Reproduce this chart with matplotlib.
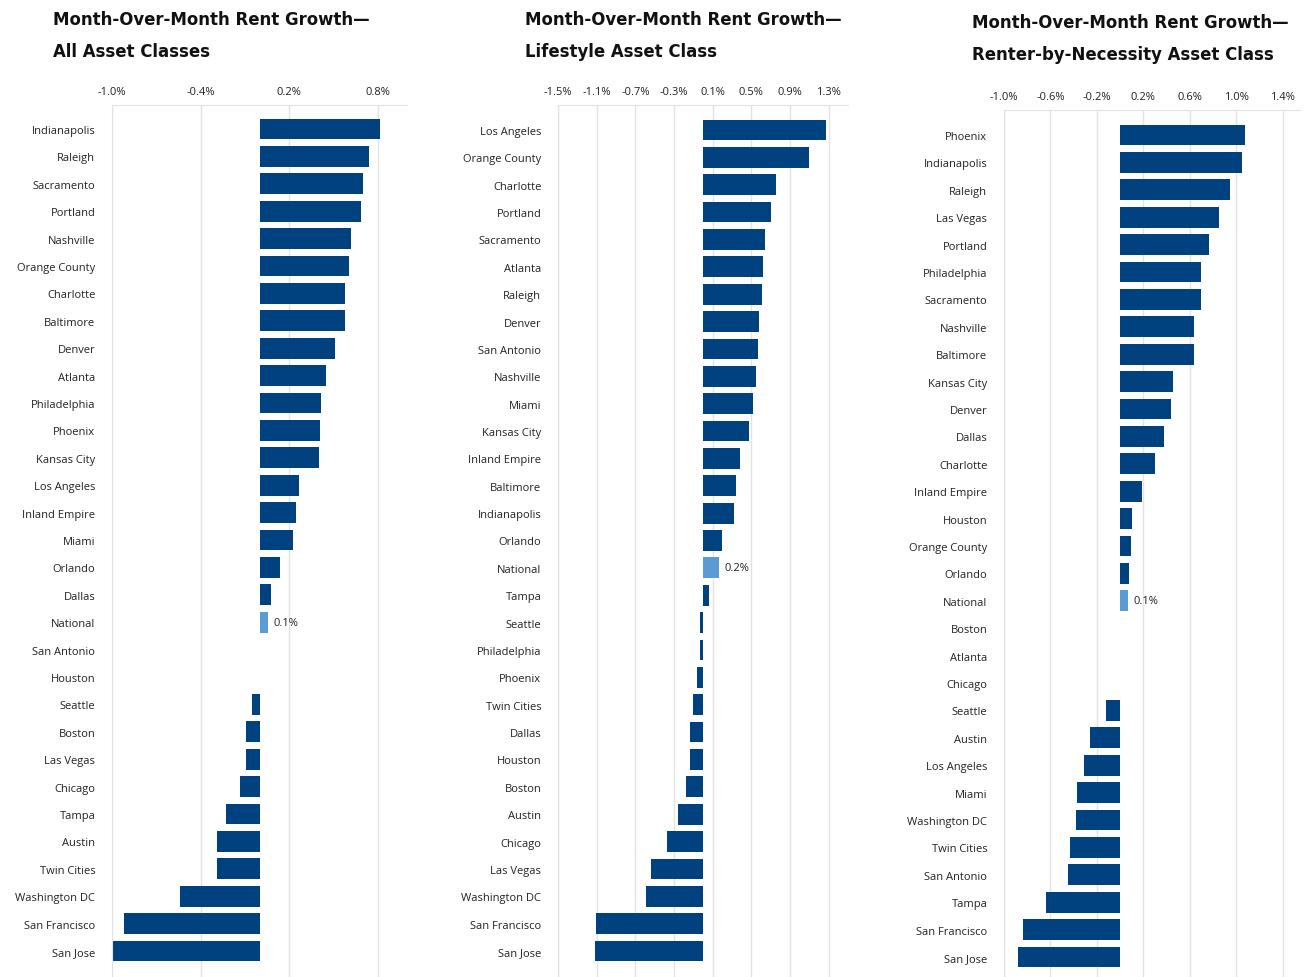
import matplotlib.pyplot as plt
from matplotlib import font_manager
from matplotlib.font_manager import FontProperties

# data (percent)
cities_all = ["Indianapolis", "Raleigh", "Sacramento", "Portland", "Nashville", "Orange County",
              "Charlotte", "Baltimore", "Denver", "Atlanta", "Philadelphia", "Phoenix",
              "Kansas City", "Los Angeles", "Inland Empire", "Miami", "Orlando", "Dallas",
              "National", "San Antonio", "Houston", "Seattle", "Boston", "Las Vegas", "Chicago",
              "Tampa", "Austin", "Twin Cities", "Washington DC", "San Francisco", "San Jose"]
growth_all = [0.82, 0.74, 0.70, 0.69, 0.62, 0.61, 0.58, 0.58, 0.51, 0.45, 0.42, 0.41,
              0.40, 0.27, 0.25, 0.23, 0.14, 0.08, 0.06, 0.0, 0.0, -0.05, -0.09, -0.09,
              -0.13, -0.23, -0.29, -0.29, -0.54, -0.92, -0.99]

cities_life = ["Los Angeles", "Orange County", "Charlotte", "Portland", "Sacramento", "Atlanta",
               "Raleigh", "Denver", "San Antonio", "Nashville", "Miami", "Kansas City",
               "Inland Empire", "Baltimore", "Indianapolis", "Orlando", "National", "Tampa",
               "Seattle", "Philadelphia", "Phoenix", "Twin Cities", "Dallas", "Houston",
               "Boston", "Austin", "Chicago", "Las Vegas", "Washington DC", "San Francisco",
               "San Jose"]
growth_life = [1.27, 1.10, 0.76, 0.70, 0.645, 0.625, 0.615, 0.58, 0.57, 0.55, 0.52, 0.48,
               0.38, 0.345, 0.325, 0.20, 0.17, 0.06, -0.035, -0.035, -0.065, -0.105,
               -0.135, -0.135, -0.18, -0.26, -0.37, -0.535, -0.59, -1.105, -1.115]

cities_rbn = ["Phoenix", "Indianapolis", "Raleigh", "Las Vegas", "Portland", "Philadelphia",
              "Sacramento", "Nashville", "Baltimore", "Kansas City", "Denver", "Dallas",
              "Charlotte", "Inland Empire", "Houston", "Orange County", "Orlando", "National",
              "Boston", "Atlanta", "Chicago", "Seattle", "Austin", "Los Angeles", "Miami",
              "Washington DC", "Twin Cities", "San Antonio", "Tampa", "San Francisco", "San Jose"]
growth_rbn = [1.08, 1.05, 0.95, 0.85, 0.77, 0.70, 0.70, 0.64, 0.64, 0.46, 0.44, 0.38,
              0.30, 0.19, 0.10, 0.09, 0.08, 0.07, 0.0, 0.0, 0.0, -0.125, -0.26, -0.315,
              -0.37, -0.38, -0.43, -0.445, -0.64, -0.84, -0.88]

titles = ["Month-Over-Month Rent Growth\u2014\nAll Asset Classes",
          "Month-Over-Month Rent Growth\u2014\nLifestyle Asset Class",
          "Month-Over-Month Rent Growth\u2014\nRenter-by-Necessity Asset Class"]
ticks_all = [-1.0, -0.4, 0.2, 0.8]
ticks_life = [-1.5, -1.1, -0.7, -0.3, 0.1, 0.5, 0.9, 1.3]
ticks_rbn = [-1.0, -0.6, -0.2, 0.2, 0.6, 1.0, 1.4]
national_labels = ["0.1%", "0.2%", "0.1%"]

# pick a narrow face for the titles if there is one
title_fp = None
for f in font_manager.fontManager.ttflist:
    low = (f.name + f.fname).lower()
    if ("condensed" in low or "narrow" in low) and f.weight in (500, 600, 700, "bold", "medium"):
        title_fp = FontProperties(fname=f.fname)
        break
if title_fp is None:
    title_fp = FontProperties(family="Roboto", weight="bold")

label_font = "Open Sans"
navy = "#00427f"
light = "#5b9bd5"
grid = "#e3e3e3"
W, H = 1307, 978

fig = plt.figure(figsize=(W / 100, H / 100), dpi=100)

# pixel boxes: left, right, top, first-row y, last-row y, title x, title line-1 centre y
panels = [
    (112, 407, 106, 130, 952, 53, 20),
    (558, 848, 106, 131, 952, 525, 20),
    (1004, 1300, 111, 136, 958, 972, 23),
]
xlims = [(-1.0, 1.0), (-1.5, 1.5), (-1.0, 1.55)]
data = [(cities_all, growth_all, ticks_all), (cities_life, growth_life, ticks_life),
        (cities_rbn, growth_rbn, ticks_rbn)]

title_texts = []
for i, (box, (cities, vals, ticks)) in enumerate(zip(panels, data)):
    left, right, top, first, last, tx, ty = box
    n = len(cities)
    row = (last - first) / (n - 1)
    ax = fig.add_axes([left / W, 0, (right - left) / W, (H - top) / H])
    y = list(range(n))
    colors = [light if c == "National" else navy for c in cities]
    ax.barh(y, vals, height=0.76, color=colors, zorder=2)
    ax.set_xlim(*xlims[i])
    ax.set_ylim((n - 1) + (H - last) / row, -(first - top) / row)
    ax.set_yticks(y)
    ax.set_yticklabels(cities, fontsize=8, family=label_font, color="#222222")
    ax.set_xticks(ticks)
    ax.set_xticklabels([f"{t:.1f}%" for t in ticks], fontsize=8, family=label_font,
                       color="#222222")
    ax.xaxis.tick_top()
    ax.tick_params(axis="both", length=0)
    ax.tick_params(axis="y", pad=12)
    ax.tick_params(axis="x", pad=6)
    ax.grid(axis="x", color=grid, linewidth=1, zorder=0)
    for s in ["right", "bottom"]:
        ax.spines[s].set_visible(False)
    ax.spines["top"].set_color(grid)
    ax.spines["left"].set_color(grid)
    k = cities.index("National")
    ax.text(vals[k] + 0.035 * (xlims[i][1] - xlims[i][0]) / 2, k, national_labels[i],
            va="center", ha="left", fontsize=8, family=label_font, color="#222222")
    # two lines, each centred on the y it has in the original (32 px apart)
    lines = titles[i].split("\n")
    for j, line in enumerate(lines):
        fp = title_fp.copy()
        fp.set_size(16)
        t = fig.text(tx / W, 1 - (ty + 32 * j) / H, line, ha="left", va="center",
                     fontproperties=fp, color="#111111")
        title_texts.append(t)

# fit the titles to the width they take in the original (~318 px)
fig.canvas.draw()
r = fig.canvas.get_renderer()
s = min(16 * 318 / t.get_window_extent(r).width for t in title_texts)
for t in title_texts:
    t.set_fontsize(s)

fig.savefig("out.png", dpi=100)
